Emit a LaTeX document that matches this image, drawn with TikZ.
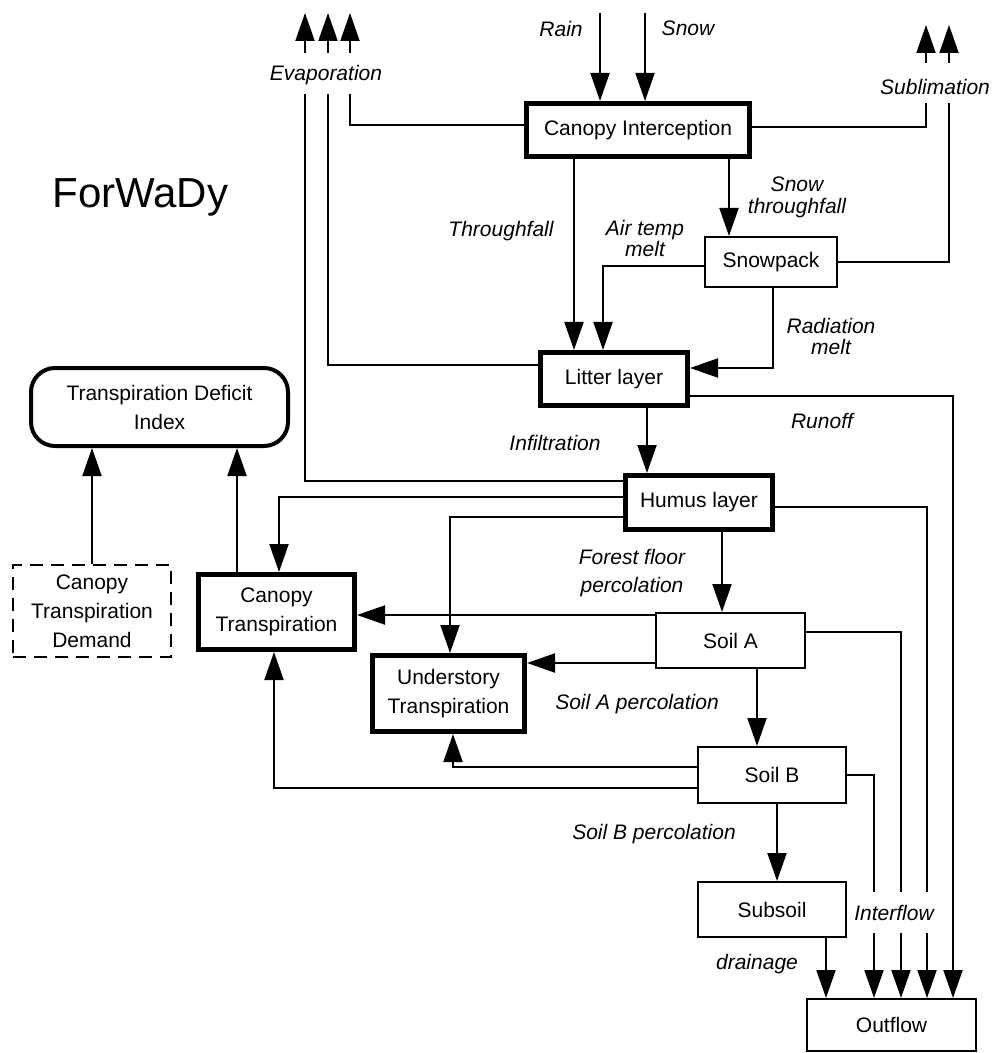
\documentclass[tikz,border=0pt]{standalone}
\usepackage{fontspec}
\setmainfont{Liberation Sans}
\usepackage{tikz}
\usetikzlibrary{arrows.meta,calc}

\begin{document}
\begin{tikzpicture}[x=0.5pt,y=-0.5pt,
  every node/.style={font=\fontsize{10.5}{14.5}\selectfont},
  layer/.style={draw, line width=1pt, inner sep=2pt, align=center},
  thklayer/.style={layer, line width=2.5pt},
  pipe/.style={line width=1pt},
  flow/.style={pipe, -{Triangle[length=14pt,width=9.5pt]}},
  flowlbl/.style={font=\fontsize{10.5}{10.5}\selectfont\itshape, align=center}]
\useasboundingbox (0,0) rectangle (992,1053);

\node[anchor=base west, inner sep=0pt, font=\fontsize{21}{25}\selectfont] (title) at (52,208) {ForWaDy};

\node[thklayer, minimum width=111.5pt, minimum height=26.5pt] (ci) at (638,130) {Canopy Interception};
\node[layer, minimum width=66pt, minimum height=25pt] (snow) at (771,262) {Snowpack};
\node[thklayer, minimum width=73.5pt, minimum height=26.5pt] (lit) at (614,379) {Litter layer};
\node[thklayer, minimum width=73.5pt, minimum height=27pt] (hum) at (699,502.5) {Humus layer};
\node[layer, minimum width=74.5pt, minimum height=27.5pt] (soila) at (730.5,640.5) {Soil A};
\node[layer, minimum width=74pt, minimum height=28pt] (soilb) at (772,775) {Soil B};
\node[layer, minimum width=74pt, minimum height=27.5pt] (sub) at (772,909.5) {Subsoil};
\node[layer, minimum width=84.5pt, minimum height=26pt] (out) at (891.5,1025) {Outflow};
\node[thklayer, minimum width=78pt, minimum height=37.5pt] (ct) at (276.5,612) {Canopy\\Transpiration};
\node[thklayer, minimum width=76pt, minimum height=38pt] (ut) at (448.5,693.5) {Understory\\Transpiration};
\node[layer, dash pattern=on 6.5pt off 4pt, minimum width=79pt, minimum height=46pt] (ctd) at (92,611) {Canopy\\Transpiration\\Demand};
\node[layer, line width=2pt, rounded corners=12pt, minimum width=128.5pt, minimum height=39pt] (tdi) at (159.5,407) {Transpiration Deficit\\Index};

\node[flowlbl] (rainlbl) at (561,29) {Rain};
\node[flowlbl] (snowlbl) at (688,28) {Snow};
\node[flowlbl] (evlbl) at (326,75) {Evaporation};
\node[flowlbl] (sblbl) at (935,87) {Sublimation};
\node[flowlbl] (tflbl) at (501,231) {Throughfall};
\node[flowlbl, font=\fontsize{10.5}{11}\selectfont\itshape] (sflbl) at (797,197) {Snow\\throughfall};
\node[flowlbl] (amlbl) at (645,238) {Air temp\\melt};
\node[flowlbl] (rmlbl) at (831,336) {Radiation\\melt};
\node[flowlbl] (rolbl) at (822,421) {Runoff};
\node[flowlbl] (inflbl) at (555,443) {Infiltration};
\node[flowlbl, font=\fontsize{10.5}{14}\selectfont\itshape] (fflbl) at (632,573) {Forest floor\\percolation};
\node[flowlbl] (palbl) at (637,704) {Soil A percolation};
\node[flowlbl] (pblbl) at (654,834) {Soil B percolation};
\node[flowlbl] (iflbl) at (894,913) {Interflow};
\node[flowlbl] (drlbl) at (757,964) {drainage};

\coordinate (rain) at (600,13);
\coordinate (snowin) at (645,13);
\foreach \i/\x in {1/305,2/328,3/350} {
  \coordinate (ev\i) at (\x,94);
  \draw[flow] (\x,53) -- ++(0,-40);
}
\foreach \i/\x in {1/926,2/949} {
  \coordinate (sb\i) at (\x,103);
  \draw[flow] (\x,63) -- ++(0,-38);
}
\coordinate (tf) at (574,0);
\coordinate (sf) at (729,0);
\coordinate (am) at (603,0);
\coordinate (rm) at (773,0);
\coordinate (inf) at (647,0);
\coordinate (ff) at (722,0);
\coordinate (pa) at (757,0);
\coordinate (pb) at (777,0);
\coordinate (dr) at (826,0);
\coordinate (ro) at (953,0);
\coordinate (ifh) at (927,0);
\coordinate (ifa) at (901,0);
\coordinate (ifb) at (874,0);
\coordinate (ctin) at (279,0);
\coordinate (utin) at (450,0);
\coordinate (utb) at (453,0);
\coordinate (ctb) at (274,0);
\coordinate (tdib) at (237,0);
\coordinate (gaptop) at (0,892);
\coordinate (gapbot) at (0,933);

\draw[flow] (rain) -- (rain |- ci.north);
\draw[flow] (snowin) -- (snowin |- ci.north);
\draw[pipe] ($(ci.west)+(0,-5)$) -| (ev3);
\draw[pipe] ($(lit.west)+(0,-14)$) -| (ev2);
\draw[pipe] ($(hum.west)+(0,-21.5)$) -| (ev1);
\draw[pipe] ($(ci.east)+(0,-3)$) -| (sb1);
\draw[pipe] (snow.east) -| (sb2);

\draw[flow] (tf |- ci.south) -- (tf |- lit.north);
\draw[flow] (sf |- ci.south) -- (sf |- snow.north);
\draw[flow] ($(snow.west)+(0,4)$) -| (am |- lit.north);
\draw[flow] (rm |- snow.south) |- ($(lit.east)+(0,-11)$);
\draw[flow] ($(lit.east)+(0,17)$) -| (ro |- out.north);
\draw[flow] (inf |- lit.south) -- (inf |- hum.north);
\draw[flow] (ff |- hum.south) -- (ff |- soila.north);
\draw[flow] ($(hum.west)+(0,-5.5)$) -| (ctin |- ct.north);
\draw[flow] ($(hum.west)+(0,14.5)$) -| (utin |- ut.north);
\draw[pipe] ($(hum.east)+(0,4.5)$) -| (ifh |- gaptop);
\draw[flow] (ifh |- gapbot) -- (ifh |- out.north);

\draw[flow] ($(soila.west)+(0,-25.5)$) -- ($(ct.east)+(0,3)$);
\draw[flow] ($(soila.west)+(0,22.5)$) -- ($(ut.east)+(0,-30.5)$);
\draw[pipe] ($(soila.east)+(0,-8.5)$) -| (ifa |- gaptop);
\draw[flow] (ifa |- gapbot) -- (ifa |- out.north);
\draw[flow] (pa |- soila.south) -- (pa |- soilb.north);

\draw[flow] ($(soilb.west)+(0,-8)$) -| (utb |- ut.south);
\draw[flow] ($(soilb.west)+(0,13)$) -| (ctb |- ct.south);
\draw[pipe] (soilb.east) -| (ifb |- gaptop);
\draw[flow] (ifb |- gapbot) -- (ifb |- out.north);
\draw[flow] (pb |- soilb.south) -- (pb |- sub.north);
\draw[flow] (dr |- sub.south) -- (dr |- out.north);

\draw[flow] (tdib |- ct.north) -- (tdib |- tdi.south);
\draw[flow] (ctd.north) -- (ctd.north |- tdi.south);
\end{tikzpicture}
\end{document}
